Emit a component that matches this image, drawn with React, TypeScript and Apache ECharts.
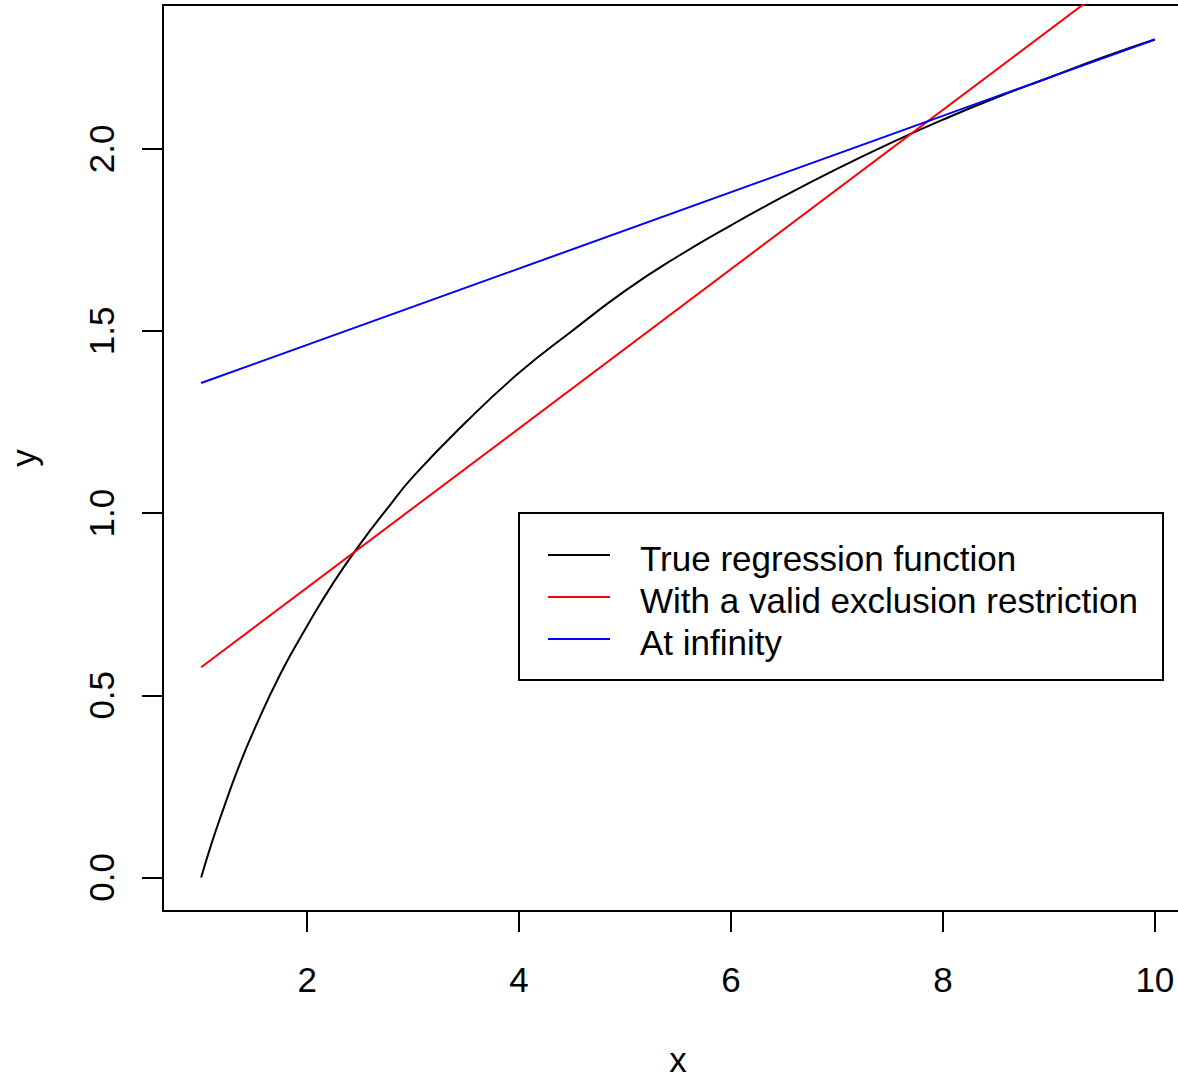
import React, { useEffect, useRef } from "react";
import * as echarts from "echarts";

// Values
const trueX = [1, 1.1, 1.2, 1.35, 1.5, 1.75, 2, 2.25, 2.5, 2.75, 3, 3.5, 4, 4.5, 5, 5.5, 6, 6.5, 7, 7.5, 8, 8.5, 9, 9.5, 10];
const trueY = [0, 0.095, 0.18, 0.3, 0.405, 0.56, 0.69, 0.81, 0.915, 1.01, 1.1, 1.25, 1.385, 1.5, 1.61, 1.705, 1.79, 1.87, 1.945, 2.015, 2.08, 2.14, 2.195, 2.25, 2.3];
const redX = [1, 10];
const redY = [0.577, 2.544];
const blueX = [1, 10];
const blueY = [1.357, 2.3];
const xTicks = [2, 4, 6, 8, 10];
const yTicks = [0, 0.5, 1, 1.5, 2];
const legendNames = ["True regression function", "With a valid exclusion restriction", "At infinity"];
const legendColors = ["#000000", "#ff0000", "#0000ff"];

const FONT = "Liberation Sans, Arial, Helvetica, sans-serif";
const FS = 35;

function zip(xs: number[], ys: number[]) {
  return xs.map((x, i) => [x, ys[i]]);
}

export default function App() {
  const ref = useRef<HTMLDivElement>(null);
  useEffect(() => {
    document.body.style.margin = "0";
    const chart = echarts.init(ref.current!, null, { renderer: "svg" });
    const legendX = 519, legendY = 513, legendW = 644, legendH = 167;
    const legendGraphics: any[] = [
      {
        type: "rect",
        shape: { x: legendX, y: legendY, width: legendW, height: legendH },
        style: { fill: "#fff", stroke: "#000", lineWidth: 2 },
        z: 100,
      },
    ];
    legendNames.forEach((name, i) => {
      const cy = 555 + i * 42;
      legendGraphics.push({
        type: "line",
        shape: { x1: 548, y1: cy, x2: 610, y2: cy },
        style: { stroke: legendColors[i], lineWidth: 2 },
        z: 101,
      });
      legendGraphics.push({
        type: "text",
        x: 640,
        y: cy + 3,
        style: { text: name, font: `${FS}px ${FONT}`, fill: "#000", verticalAlign: "middle", align: "left" },
        z: 101,
      });
    });
    chart.setOption({
      animation: false,
      backgroundColor: "#fff",
      grid: {
        left: 163,
        top: 5,
        width: 1030,
        height: 906,
        show: true,
        borderColor: "#000",
        borderWidth: 2,
        backgroundColor: "transparent",
        containLabel: false,
        outerBoundsMode: "none",
      },
      xAxis: {
        type: "value",
        min: 0.64,
        max: 10.36,
        name: "x",
        nameLocation: "middle",
        nameGap: 134,
        nameTextStyle: { fontFamily: FONT, fontSize: FS, color: "#000", lineHeight: 28 },
        axisLine: { show: false, onZero: false },
        axisTick: { show: true, length: 21, customValues: xTicks, lineStyle: { color: "#000", width: 2 } },
        axisLabel: {
          customValues: xTicks,
          margin: 51,
          fontFamily: FONT,
          fontSize: FS,
          color: "#000",
          formatter: (v: number) => String(v),
        },
        splitLine: { show: false },
      },
      yAxis: {
        type: "value",
        min: -0.0921,
        max: 2.3947,
        name: "y",
        nameLocation: "middle",
        nameGap: 122,
        nameRotate: 90,
        nameTextStyle: { fontFamily: FONT, fontSize: FS, color: "#000" },
        axisLine: { show: false, onZero: false },
        axisTick: { show: true, length: 21, customValues: yTicks, lineStyle: { color: "#000", width: 2 } },
        axisLabel: {
          customValues: yTicks,
          rotate: 90,
          margin: 44,
          fontFamily: FONT,
          fontSize: FS,
          color: "#000",
          formatter: (v: number) => v.toFixed(1),
        },
        splitLine: { show: false },
      },
      series: [
        {
          name: legendNames[0],
          type: "line",
          data: zip(trueX, trueY),
          smooth: true,
          showSymbol: false,
          symbol: "none",
          lineStyle: { color: legendColors[0], width: 2 },
          clip: true,
        },
        {
          name: legendNames[1],
          type: "line",
          data: zip(redX, redY),
          showSymbol: false,
          symbol: "none",
          lineStyle: { color: legendColors[1], width: 2 },
          clip: true,
        },
        {
          name: legendNames[2],
          type: "line",
          data: zip(blueX, blueY),
          showSymbol: false,
          symbol: "none",
          lineStyle: { color: legendColors[2], width: 2 },
          clip: true,
        },
      ],
      graphic: legendGraphics,
    });
    return () => chart.dispose();
  }, []);
  return <div ref={ref} style={{ width: 1178, height: 1081 }} />;
}
